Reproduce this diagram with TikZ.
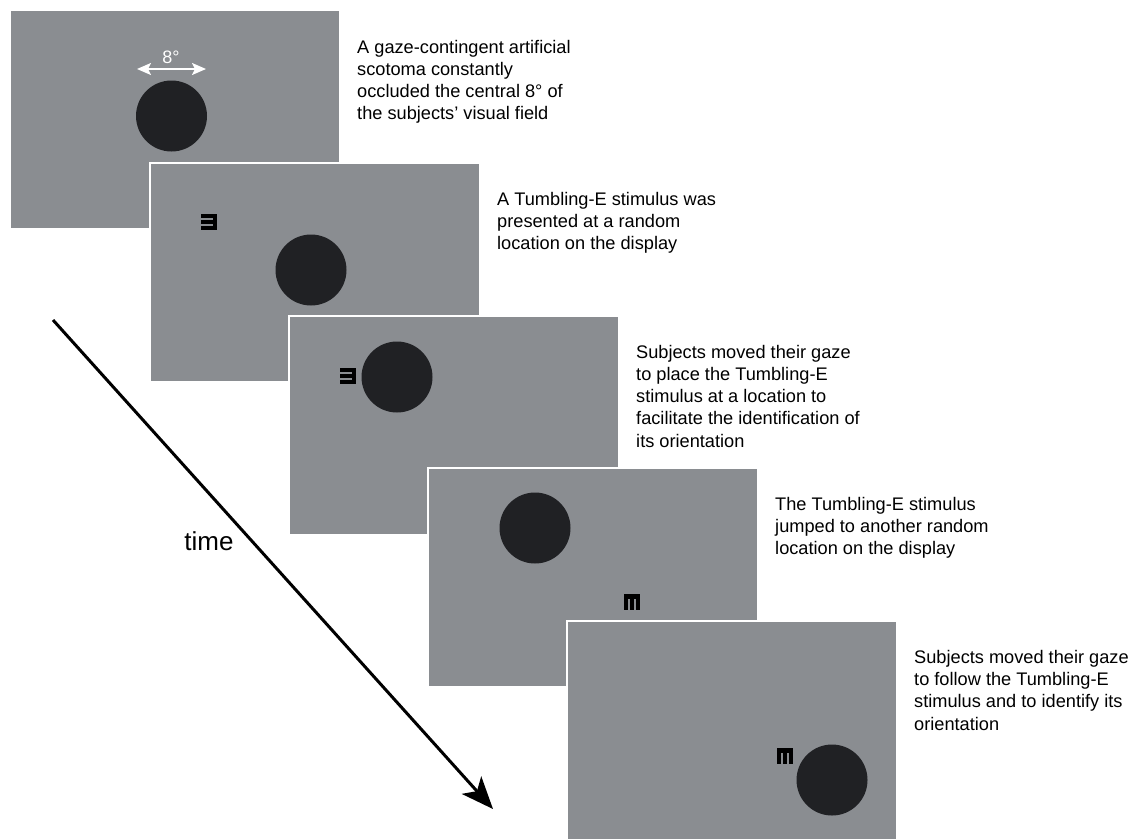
\documentclass[tikz,border=0pt]{standalone}
\usepackage{fontspec}
\setmainfont{Liberation Sans}
\usetikzlibrary{arrows.meta,calc}
\usetikzlibrary{positioning}
\definecolor{screengray}{RGB}{138,141,145}
\definecolor{scotomagray}{RGB}{32,33,36}
\tikzset{
  screen/.style={fill=screengray,draw=white,line width=2pt},
  blob/.style={circle,fill=scotomagray,minimum size=71pt,inner sep=0pt},
  caption/.style={align=left,inner sep=0pt,font=\fontsize{18.2}{22.2}\selectfont},
}
\def\Screen(#1)#2{%
  \begin{scope}[shift={(#1)}]
    \draw[screen] (0,0) rectangle (330,219);
    \coordinate (#2 nw) at (0,0);
    \coordinate (#2 ne) at (330,0);
  \end{scope}
}
\def\TumblingE#1#2#3{%
  \begin{scope}[shift={(#1)},rotate=#3]
    \fill[black] (-8,-8) rectangle (-3.5,8);
    \fill[black] (-8,-8) rectangle (8,-4.2);
    \fill[black] (-8,-1.9) rectangle (8,1.9);
    \fill[black] (-8,4.2) rectangle (8,8);
    \coordinate (#2) at (0,0);
  \end{scope}
}

\begin{document}
\begin{tikzpicture}[x=1pt,y=-1pt]
  \useasboundingbox (0,0) rectangle (1134,838);
  % Place the screens, back to front
  \Screen(10,10){s1}
  \node[blob] (s1 blob) at ($(s1 nw)+(161.5,106)$) {};
  \coordinate (deg left) at (137,69);
  \coordinate (deg right) at (206,69);
  \draw[white,line width=2pt,{Stealth[length=14pt,width=12pt,inset=3pt]}-{Stealth[length=14pt,width=12pt,inset=3pt]}]
    (deg left) -- (deg right);
  \node[white,inner sep=0pt,font=\fontsize{18}{22}\selectfont] (deg) at (171,57) {8°};
  \Screen(150,163){s2}
  \node[blob] (s2 blob) at ($(s2 nw)+(161,107)$) {};
  \TumblingE{$(s2 nw)+(59,59)$}{s2 E}{180}
  \Screen(289,316){s3}
  \node[blob] (s3 blob) at ($(s3 nw)+(108,61)$) {};
  \TumblingE{$(s3 nw)+(59,60)$}{s3 E}{180}
  \Screen(428,468){s4}
  \node[blob] (s4 blob) at ($(s4 nw)+(107,60)$) {};
  \TumblingE{$(s4 nw)+(204,134)$}{s4 E}{-90}
  \Screen(567,621){s5}
  \node[blob] (s5 blob) at ($(s5 nw)+(265,159)$) {};
  \TumblingE{$(s5 nw)+(218,135)$}{s5 E}{-90}
  % Captions right of each screen
  \node[caption,below right=30pt and 17pt of s1 ne] (c1)
    {A gaze-contingent artificial\\scotoma constantly\\occluded the central 8° of\\the subjects’ visual field};
  \node[caption,below right=29pt and 17pt of s2 ne] (c2)
    {A Tumbling-E stimulus was\\presented at a random\\location on the display};
  \node[caption,below right=29pt and 17pt of s3 ne] (c3)
    {Subjects moved their gaze\\to place the Tumbling-E\\stimulus at a location to\\facilitate the identification of\\its orientation};
  \node[caption,below right=29pt and 17pt of s4 ne] (c4)
    {The Tumbling-E stimulus\\jumped to another random\\location on the display};
  \node[caption,below right=29pt and 17pt of s5 ne] (c5)
    {Subjects moved their gaze\\to follow the Tumbling-E\\stimulus and to identify its\\orientation};
  % The time axis
  \coordinate (time start) at (53,320);
  \coordinate (time end) at (493,809);
  \draw[line width=3pt,-{Stealth[length=32pt,width=26pt,inset=8pt]}] (time start) -- (time end);
  \node[font=\fontsize{26}{30}\selectfont,inner sep=0pt] (time) at (209,541) {time};
\end{tikzpicture}
\end{document}
